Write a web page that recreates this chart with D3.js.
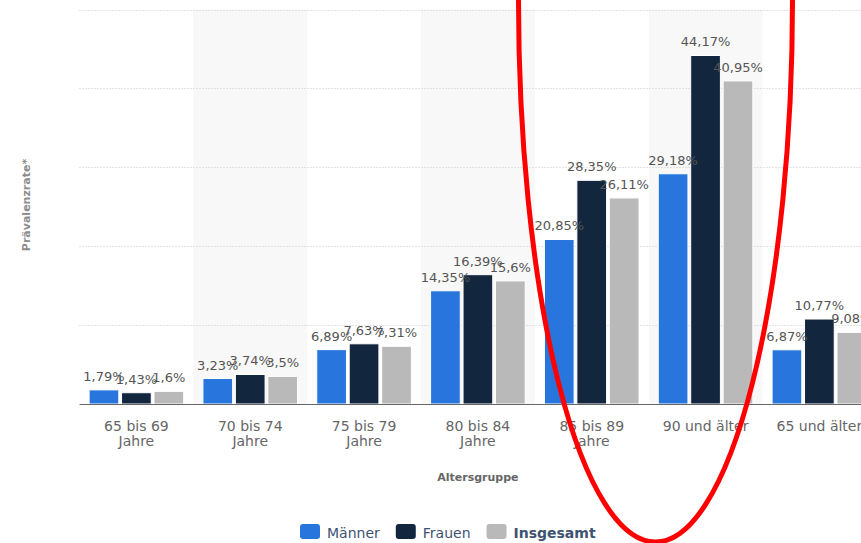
<!DOCTYPE html>
<html>
<head>
<meta charset="utf-8">
<script src="https://cdn.jsdelivr.net/npm/d3@7/dist/d3.min.js"></script>
<style>
  html, body { margin: 0; padding: 0; background: #fff; }
  svg { display: block; font-family: "DejaVu Sans", Verdana, sans-serif; }
</style>
</head>
<body>
<svg id="chart" width="861" height="543"></svg>
<script>
// Prävalenz nach Altersgruppe und Geschlecht (in %)
const categories = ["65 bis 69 Jahre", "70 bis 74 Jahre", "75 bis 79 Jahre", "80 bis 84 Jahre",
                    "85 bis 89 Jahre", "90 und älter", "65 und älter"];
const seriesNames = ["Männer", "Frauen", "Insgesamt"];
const maenner   = [1.79, 3.23, 6.89, 14.35, 20.85, 29.18, 6.87];
const frauen    = [1.43, 3.74, 7.63, 16.39, 28.35, 44.17, 10.77];
const insgesamt = [1.6, 3.5, 7.31, 15.6, 26.11, 40.95, 9.08];
const yTicks = [0, 10, 20, 30, 40, 50];
const colors = ["#2876dd", "#12263e", "#b9b9b9"];

const values = [maenner, frauen, insgesamt];
const svg = d3.select("#chart");

const plot = { left: 79.5, top: 9.5, bottom: 404, step: 113.83 };
const x0 = d3.scaleBand()
  .domain(categories)
  .range([plot.left, plot.left + plot.step * categories.length])
  .padding(0);
const x1 = d3.scaleBand()
  .domain(seriesNames)
  .range([9.6, 104.2])
  .paddingInner(0.085);
const y = d3.scaleLinear().domain([0, 50]).range([plot.bottom, plot.top]);

// alternating category bands
svg.append("g").selectAll("rect")
  .data(categories.filter((c, i) => i % 2 === 1))
  .join("rect")
  .attr("x", d => x0(d))
  .attr("y", plot.top)
  .attr("width", x0.bandwidth())
  .attr("height", plot.bottom - plot.top)
  .attr("fill", "#f8f8f8");

// dotted horizontal grid
svg.append("g").selectAll("line")
  .data(yTicks.filter(t => t > 0))
  .join("line")
  .attr("x1", plot.left)
  .attr("x2", 861)
  .attr("y1", d => Math.round(y(d)) + 0.5)
  .attr("y2", d => Math.round(y(d)) + 0.5)
  .attr("stroke", "#c8c8c8")
  .attr("stroke-width", 1)
  .attr("stroke-dasharray", "1,2");

// bars
const rows = categories.map((c, i) => ({ cat: c, vals: seriesNames.map((s, k) => ({ s, k, v: values[k][i] })) }));
const groups = svg.append("g").selectAll("g")
  .data(rows)
  .join("g")
  .attr("transform", d => `translate(${x0(d.cat)},0)`);

groups.selectAll("rect")
  .data(d => d.vals)
  .join("rect")
  .attr("x", d => x1(d.s))
  .attr("y", d => y(d.v))
  .attr("width", x1.bandwidth())
  .attr("height", d => plot.bottom - y(d.v))
  .attr("fill", d => colors[d.k])
  .attr("stroke", "#fff")
  .attr("stroke-width", 1);

// value labels
const fmt = v => String(v).replace(".", ",") + "%";
groups.selectAll("text")
  .data(d => d.vals)
  .join("text")
  .attr("x", d => x1(d.s) + x1.bandwidth() / 2)
  .attr("y", d => y(d.v) - 9)
  .attr("text-anchor", "middle")
  .attr("font-size", 13)
  .attr("fill", "#555")
  .text(d => fmt(d.v));

// x axis
const xAxis = svg.append("g")
  .attr("transform", `translate(0,${plot.bottom})`)
  .call(d3.axisBottom(x0).tickSize(0).tickPadding(0));
xAxis.select(".domain").remove();
xAxis.append("line")
  .attr("x1", plot.left).attr("x2", 861)
  .attr("y1", 0.5).attr("y2", 0.5)
  .attr("stroke", "#666").attr("stroke-width", 1);
xAxis.selectAll(".tick text")
  .attr("fill", "#666")
  .attr("font-size", 14)
  .attr("font-family", "DejaVu Sans, sans-serif")
  .attr("y", 0)
  .attr("dy", null)
  .each(function (d) {
    const t = d3.select(this);
    const lines = d.endsWith(" Jahre") ? [d.slice(0, -6), "Jahre"] : [d];
    t.text(null);
    lines.forEach((ln, j) => {
      t.append("tspan").attr("x", 0).attr("y", 26.5 + j * 15.5).text(ln);
    });
  });

// axis titles
svg.append("text")
  .attr("x", (plot.left + plot.left + plot.step * categories.length) / 2)
  .attr("y", 481)
  .attr("text-anchor", "middle")
  .attr("font-size", 11)
  .attr("font-weight", "bold")
  .attr("fill", "#666")
  .text("Altersgruppe");

svg.append("text")
  .attr("transform", "translate(29.5,205) rotate(-90)")
  .attr("text-anchor", "middle")
  .attr("font-size", 11)
  .attr("font-weight", "bold")
  .attr("fill", "#8c8c8c")
  .text("Prävalenzrate*");

// legend
const legend = svg.append("g").attr("transform", "translate(300,0)");
let lx = 0;
seriesNames.forEach((s, k) => {
  const item = legend.append("g").attr("transform", `translate(${lx},0)`);
  item.append("rect")
    .attr("x", 0).attr("y", 524)
    .attr("width", 20).attr("height", 15)
    .attr("rx", 3)
    .attr("fill", colors[k]);
  const t = item.append("text")
    .attr("x", 27).attr("y", 538)
    .attr("font-size", 14)
    .attr("font-weight", k === 2 ? "bold" : "normal")
    .attr("fill", "#3d5372")
    .text(s);
  lx += 27 + t.node().getComputedTextLength() + 16;
});

// highlight ring around the oldest age groups
svg.append("ellipse")
  .attr("cx", 655.5)
  .attr("cy", 0)
  .attr("rx", 137)
  .attr("ry", 542)
  .attr("fill", "none")
  .attr("stroke", "#ff0000")
  .attr("stroke-width", 5);
</script>
</body>
</html>
